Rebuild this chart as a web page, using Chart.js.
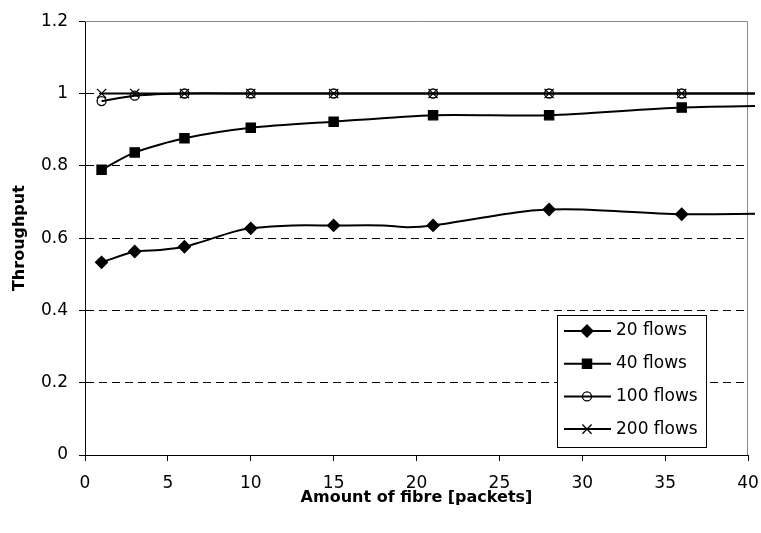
<!DOCTYPE html>
<html>
<head>
<meta charset="utf-8">
<script src="https://cdn.jsdelivr.net/npm/chart.js@4.4.0/dist/chart.umd.min.js"></script>
<style>
	html, body { margin: 0; padding: 0; background: #fff; }
</style>
</head>
<body>
<canvas id="chart" width="761" height="533"></canvas>
<script>
// fibre sizes that carry a marker
var fibre = [1, 3, 6, 10, 15, 21, 28, 36];

var flows20  = [0.533, 0.563, 0.576, 0.627, 0.635, 0.635, 0.679, 0.666];
var flows40  = [0.789, 0.837, 0.876, 0.905, 0.922, 0.940, 0.940, 0.961];
var flows100 = [0.979, 0.994, 1, 1, 1, 1, 1, 1];
var flows200 = [1, 1, 1, 1, 1, 1, 1, 1];

// vertices without a marker: bends of the 20 flows curve, and the tail past x = 40
var bends20X = [4.5, 9, 12.5, 18, 19.5, 26, 30, 45];
var bends20Y = [0.567, 0.618, 0.635, 0.635, 0.630, 0.671, 0.679, 0.670];
var tailX    = [45];
var tail40   = [0.968];
var tail100  = [1];
var tail200  = [1];

var seriesNames = ["20 flows", "40 flows", "100 flows", "200 flows"];

Chart.defaults.font.family = "'DejaVu Sans', sans-serif";
Chart.defaults.color = "#000";

function points(xs, ys, bx, by) {
	var pts = xs.map(function (x, i) { return {x: x, y: ys[i], mark: true}; });
	bx.forEach(function (x, i) { pts.push({x: x, y: by[i], mark: false}); });
	return pts.sort(function (a, b) { return a.x - b.x; });
}

function dataset(label, pts, style, radius, fill) {
	return {
		label: label,
		data: pts,
		borderColor: "#000",
		borderWidth: 2,
		tension: 0.25,
		pointStyle: style,
		pointRadius: function (c) { return c.raw && c.raw.mark ? radius : 0; },
		pointBackgroundColor: fill,
		pointBorderColor: "#000",
		pointBorderWidth: 1.3,
		clip: {left: 10, top: 10, right: 7, bottom: 10}
	};
}

var datasets = [
	dataset(seriesNames[0], points(fibre, flows20, bends20X, bends20Y), "rectRot", 6, "#000"),
	dataset(seriesNames[1], points(fibre, flows40, tailX, tail40), "rect", 6.5, "#000"),
	dataset(seriesNames[2], points(fibre, flows100, tailX, tail100), "circle", 4.5, "rgba(0,0,0,0)"),
	dataset(seriesNames[3], points(fibre, flows200, tailX, tail200), "crossRot", 6.5, "rgba(0,0,0,0)")
];

// grey top/right edges of the plot box
var frame = {
	id: "frame",
	beforeDatasetsDraw: function (chart) {
		var a = chart.chartArea, ctx = chart.ctx;
		var t = Math.round(a.top) + 0.5, r = Math.round(a.right) - 0.5;
		ctx.save();
		ctx.strokeStyle = "#888";
		ctx.lineWidth = 1;
		ctx.beginPath();
		ctx.moveTo(a.left, t);
		ctx.lineTo(r, t);
		ctx.lineTo(r, a.bottom);
		ctx.stroke();
		ctx.restore();
	}
};

// boxed legend in the lower right of the plot
var boxLegend = {
	id: "boxLegend",
	afterDatasetsDraw: function (chart) {
		var a = chart.chartArea, ctx = chart.ctx;
		var x0 = Math.round(a.right) - 191, y0 = Math.round(a.bottom) - 140;
		ctx.save();
		ctx.fillStyle = "#fff";
		ctx.strokeStyle = "#000";
		ctx.lineWidth = 1;
		ctx.fillRect(x0, y0, 149, 132);
		ctx.strokeRect(x0 + 0.5, y0 + 0.5, 149, 132);
		chart.data.datasets.forEach(function (ds, i) {
			var y = y0 + 16 + i * 32.7;
			ctx.strokeStyle = "#000";
			ctx.lineWidth = 2;
			ctx.beginPath();
			ctx.moveTo(x0 + 7, y);
			ctx.lineTo(x0 + 54, y);
			ctx.stroke();
			var r = ds.pointStyle === "circle" ? 4.5 : (ds.pointStyle === "rectRot" ? 6 : 6.5);
			ctx.fillStyle = ds.pointBackgroundColor;
			ctx.lineWidth = 1.3;
			Chart.helpers.drawPoint(ctx, {pointStyle: ds.pointStyle, radius: r, rotation: 0, borderWidth: 1.3}, x0 + 30, y);
			ctx.fillStyle = "#000";
			ctx.font = "17px 'DejaVu Sans', sans-serif";
			ctx.textBaseline = "middle";
			ctx.textAlign = "left";
			ctx.fillText(ds.label, x0 + 59, y);
		});
		ctx.restore();
	}
};

new Chart(document.getElementById("chart"), {
	type: "line",
	data: {datasets: datasets},
	plugins: [frame, boxLegend],
	options: {
		responsive: false,
		animation: false,
		devicePixelRatio: 1,
		layout: {padding: {top: 18, right: 13, bottom: 0, left: 0}},
		plugins: {legend: {display: false}, tooltip: {enabled: false}},
		scales: {
			x: {
				type: "linear",
				min: 0,
				max: 40,
				ticks: {stepSize: 5, padding: 12, maxRotation: 0, autoSkip: false, font: {size: 17}},
				grid: {drawOnChartArea: false, drawTicks: true, tickLength: 6, tickColor: "#000"},
				border: {color: "#000", width: 1},
				title: {
					display: true,
					text: "Amount of fibre [packets]",
					font: {size: 16, weight: "bold"},
					padding: {top: 0, bottom: 26}
				},
				afterFit: function (s) {
					s.height = 78;
					s.paddingLeft = 0;
					s.paddingRight = 0;
				}
			},
			y: {
				min: 0,
				max: 1.2,
				ticks: {
					stepSize: 0.2,
					padding: 11,
					font: {size: 17},
					callback: function (v) { return String(Number(v.toFixed(1))); }
				},
				grid: {
					color: function (c) {
						var v = c.tick ? c.tick.value : 0;
						return (v < 0.01 || v > 1.19) ? "rgba(0,0,0,0)" : "#000";
					},
					lineWidth: 1,
					tickLength: 6,
					tickColor: "#000",
					tickBorderDash: []
				},
				border: {color: "#000", width: 1, dash: [8, 5]},
				title: {
					display: true,
					text: "Throughput",
					font: {size: 16, weight: "bold"},
					padding: {top: 10, bottom: 0}
				},
				afterFit: function (s) { s.width = 85; }
			}
		}
	}
});
</script>
</body>
</html>
